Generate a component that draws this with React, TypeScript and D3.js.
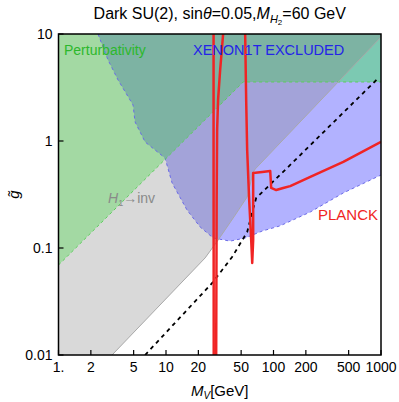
import React from "react";
import * as d3 from "d3";

const WIDTH = 399;
const HEIGHT = 402;

// perturbativity bound (region above is excluded)
const pertM = [1, 52.2, 1000];
const pertG = [0.0693, 3.56, 3.56];

// XENON1T excluded boundary
const xenonM = [2.33, 2.89, 3.58, 4.94, 5.15, 6.39, 9.8, 11.4, 15.7, 20.8, 27.5, 39.5, 54.5, 78.5, 115, 220, 446, 1000];
const xenonG = [10, 5.71, 3.72, 2.17, 1.51, 0.98, 0.693, 0.405, 0.226, 0.157, 0.124, 0.116, 0.124, 0.144, 0.161, 0.217, 0.327, 0.481];

// H1 -> invisible boundary
const invM = [3.15, 23.1, 30.6, 44.0, 56.9, 64.7, 67.6, 1000];
const invG = [0.01, 0.0807, 0.119, 0.203, 0.3, 0.513, 0.547, 9.37];

// black dashed curve
const dashM = [6.39, 26.9, 41.2, 56.9, 63.4, 69.0, 143, 946];
const dashG = [0.01, 0.0471, 0.0824, 0.141, 0.217, 0.293, 0.597, 3.88];

// PLANCK relic density contours
const planckAM = [27.7, 27.7, 27.8];
const planckAG = [10, 1, 0.01];
const planckBM = [34.0, 31.9, 30.5, 29.9, 29.6, 29.3];
const planckBG = [10, 4.61, 2.42, 1.27, 0.281, 0.01];
const planckCM = [54.5, 55.7, 56.9, 59.4, 62.0, 63.4, 64.7, 64.7, 64.7, 78.5, 93.2, 95.2, 106, 123, 143, 220, 446, 1000];
const planckCG = [10, 2.42, 0.824, 0.281, 0.119, 0.0725, 0.119, 0.281, 0.502, 0.513, 0.525, 0.364, 0.348, 0.364, 0.379, 0.461, 0.637, 0.98];

const xTicks = [1, 2, 5, 10, 20, 50, 100, 200, 500, 1000];
const xTickLabels = ["1.", "2", "5", "10", "20", "50", "100", "200", "500", "1000"];
const yTicks = [0.01, 0.1, 1, 10];
const yTickLabels = ["0.01", "0.1", "1", "10"];

const FONT = "'Liberation Sans', Arial, sans-serif";

function App() {
    const margin = { top: 34, right: 18, bottom: 47, left: 58.5 };
    const x = d3.scaleLog().domain([1, 1000]).range([margin.left, WIDTH - margin.right]);
    const y = d3.scaleLog().domain([0.01, 10]).range([HEIGHT - margin.bottom, margin.top]);
    const [x0, x1] = x.range();
    const [y0, y1] = [y.range()[1], y.range()[0]];

    const zip = (ms, gs) => ms.map((m, i) => [m, gs[i]]);
    const line = d3.line().x(d => x(d[0])).y(d => y(d[1]));

    const greenArea = line(zip(pertM, pertG).concat([[1000, 10], [1, 10]])) + "Z";
    const blueArea = line(zip(xenonM, xenonG).concat([[1000, 10]])) + "Z";
    const grayArea = line(zip(invM, invG).concat([[1000, 10], [1, 10], [1, 0.01]])) + "Z";

    const redStyle = { fill: "none", stroke: "#f02424", strokeWidth: 2.5, strokeLinejoin: "round" };

    return (
        <svg width={WIDTH} height={HEIGHT} style={{ position: "absolute", left: 0, top: 0 }} fontFamily={FONT}>
            <defs>
                <clipPath id="plot">
                    <rect x={x0} y={y0} width={x1 - x0} height={y1 - y0} />
                </clipPath>
            </defs>
            <text x={(x0 + x1) / 2} y={19} textAnchor="middle" fontSize={16}>
                Dark SU(2), sin<tspan fontStyle="italic">θ</tspan>=0.05,<tspan fontStyle="italic">M</tspan>
                <tspan fontStyle="italic" fontSize={11} dy={4}>H</tspan>
                <tspan fontSize={8} dy={2}>2</tspan>
                <tspan dy={-6}>=60 GeV</tspan>
            </text>
            <g clipPath="url(#plot)">
                <path d={blueArea} fill="rgb(0,0,255)" fillOpacity={0.3} />
                <path d={greenArea} fill="rgb(0,255,0)" fillOpacity={0.3} />
                <path d={grayArea} fill="rgb(128,128,128)" fillOpacity={0.3} />
                <path d={line(zip(xenonM, xenonG))} fill="none" stroke="#6a6ae6" strokeWidth={1} strokeDasharray="3,3" />
                <path d={line(zip(pertM, pertG))} fill="none" stroke="#5ccc5c" strokeWidth={1} strokeDasharray="3,3" />
                <path d={line(zip(invM, invG))} fill="none" stroke="#a8a8a8" strokeWidth={1} />
                <path d={line(zip(dashM, dashG))} fill="none" stroke="#000" strokeWidth={1.8} strokeDasharray="4,4" />
                <path d={line(zip(planckAM, planckAG))} style={redStyle} />
                <path d={line(zip(planckBM, planckBG))} style={redStyle} />
                <path d={line(zip(planckCM, planckCG))} style={redStyle} />
            </g>
            <text x={64} y={55} fontSize={14} fill="#2cb82c">Perturbativity</text>
            <text x={193} y={55} fontSize={14.5} fill="#2424e8">XENON1T EXCLUDED</text>
            <text x={108} y={203} fontSize={14} fill="#8a8a8a">
                <tspan fontStyle="italic">H</tspan>
                <tspan fontSize={9} dy={3}>1</tspan>
                <tspan dy={-3}>→inv</tspan>
            </text>
            <text x={378} y={220} fontSize={15} fill="#f02424" textAnchor="end">PLANCK</text>
            <rect x={x0} y={y0} width={x1 - x0} height={y1 - y0} fill="none" stroke="#000" strokeWidth={1.5} />
            {xTicks.map((t, i) => (
                <g key={"x" + i}>
                    <line x1={x(t)} x2={x(t)} y1={y1} y2={y1 - 5} stroke="#000" strokeWidth={1.2} />
                    <text x={x(t)} y={y1 + 17} textAnchor="middle" fontSize={14}>{xTickLabels[i]}</text>
                </g>
            ))}
            {yTicks.map((t, i) => (
                <g key={"y" + i}>
                    <line x1={x0} x2={x0 + 5} y1={y(t)} y2={y(t)} stroke="#000" strokeWidth={1.2} />
                    <text x={x0 - 6} y={y(t)} dy="0.35em" textAnchor="end" fontSize={14}>{yTickLabels[i]}</text>
                </g>
            ))}
            <text x={(x0 + x1) / 2} y={396} textAnchor="middle" fontSize={15}>
                <tspan fontStyle="italic">M</tspan>
                <tspan fontStyle="italic" fontSize={10} dy={3}>V</tspan>
                <tspan dy={-3}>[GeV]</tspan>
            </text>
            <text transform={`translate(19, ${(y0 + y1) / 2}) rotate(-90)`} textAnchor="middle" fontSize={15} fontStyle="italic">g̃</text>
        </svg>
    );
}

export default App;
